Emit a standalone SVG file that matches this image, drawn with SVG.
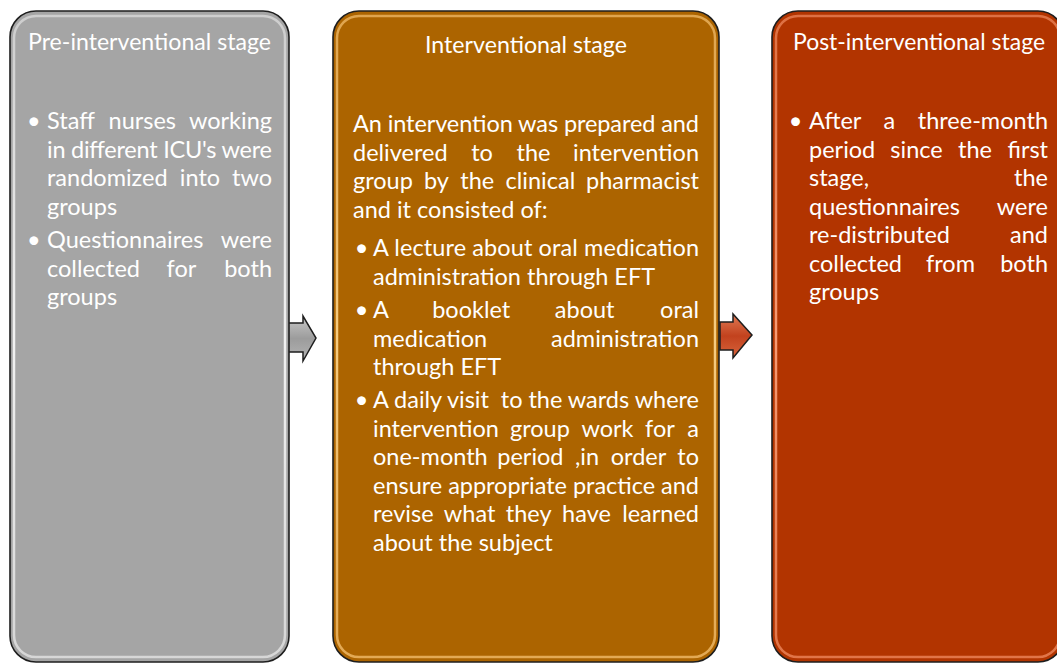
<svg xmlns="http://www.w3.org/2000/svg" width="1057" height="663" viewBox="0 0 1057 663">
<style>
  text { font-family: Lato, "Open Sans", "Liberation Sans", sans-serif; font-size: 23.5px; fill: #ffffff; }
  .e { text-anchor: end; }
  .m { text-anchor: middle; }
  .pre { white-space: pre; }
  .box { stroke: #1e1e1e; stroke-width: 1.6; }
  .rim { fill: none; stroke-width: 2.5; }
  .arrow { stroke: #1e1e1e; stroke-width: 1.5; stroke-linejoin: miter; }
</style>
<defs>
  <linearGradient id="rimGrey" x1="0" y1="0" x2="0" y2="1">
    <stop offset="0" stop-color="#ffffff" stop-opacity="0.45"/>
    <stop offset="0.5" stop-color="#ffffff" stop-opacity="0.85"/>
    <stop offset="1" stop-color="#ffffff" stop-opacity="0.55"/>
  </linearGradient>
  <linearGradient id="rimBrown" x1="0" y1="0" x2="0" y2="1">
    <stop offset="0" stop-color="#f5c070" stop-opacity="0.7"/>
    <stop offset="0.5" stop-color="#ffd890" stop-opacity="0.9"/>
    <stop offset="1" stop-color="#f5c070" stop-opacity="0.75"/>
  </linearGradient>
  <linearGradient id="rimRed" x1="0" y1="0" x2="0" y2="1">
    <stop offset="0" stop-color="#f08a60" stop-opacity="0.7"/>
    <stop offset="0.5" stop-color="#ffa680" stop-opacity="0.9"/>
    <stop offset="1" stop-color="#f08a60" stop-opacity="0.75"/>
  </linearGradient>
  <linearGradient id="arrGrey" x1="0" y1="0" x2="0" y2="1">
    <stop offset="0" stop-color="#c8c8c8"/>
    <stop offset="0.5" stop-color="#9c9c9c"/>
    <stop offset="1" stop-color="#b4b4b4"/>
  </linearGradient>
  <linearGradient id="arrRed" x1="0" y1="0" x2="0" y2="1">
    <stop offset="0" stop-color="#e07a55"/>
    <stop offset="0.5" stop-color="#c2421e"/>
    <stop offset="1" stop-color="#d8643c"/>
  </linearGradient>
</defs>

<g id="connectors">
  <path class="arrow" fill="url(#arrGrey)" d="M288,323 L303,323 L303,316 L316,338 L303,361 L303,352 L288,352 Z"/>
  <path class="arrow" fill="url(#arrRed)" d="M720,322 L733,322 L733,314 L752,335 L733,358 L733,350 L720,350 Z"/>
</g>

<g id="node-pre">
  <rect class="box" x="10" y="11" width="279" height="651" rx="26" ry="26" fill="#a5a5a5"/>
  <rect class="rim" x="14" y="16" width="271" height="641" rx="22" ry="22" stroke="url(#rimGrey)"/>
  <text x="28" y="50" textLength="243" lengthAdjust="spacingAndGlyphs">Pre-interventional stage</text>
  <text class="m" x="33.7" y="129">•</text>
  <text x="47" y="129">Staff</text><text class="m" x="142.3" y="129">nurses</text><text class="e" x="272" y="129">working</text>
  <text x="47" y="157.5" textLength="225" lengthAdjust="spacing">in different ICU's were</text>
  <text x="47" y="186">randomized</text><text class="m" x="200" y="186">into</text><text class="e" x="272" y="186">two</text>
  <text x="47" y="214.5">groups</text>
  <text class="m" x="33.7" y="248">•</text>
  <text x="47" y="248">Questionnaires</text><text class="e" x="272" y="248">were</text>
  <text x="47" y="276.5">collected</text><text class="m" x="181.4" y="276.5">for</text><text class="e" x="272" y="276.5">both</text>
  <text x="47" y="305">groups</text>
</g>

<g id="node-intervention">
  <rect class="box" x="333" y="11" width="386" height="651" rx="26" ry="26" fill="#ac6400"/>
  <rect class="rim" x="337" y="16" width="378" height="641" rx="22" ry="22" stroke="url(#rimBrown)"/>
  <text x="425" y="53" textLength="202" lengthAdjust="spacingAndGlyphs">Interventional stage</text>
  <text x="353" y="132" textLength="346" lengthAdjust="spacing">An intervention was prepared and</text>
  <text x="353" y="160.5">delivered</text><text class="m" x="482" y="160.5">to</text><text class="m" x="533.5" y="160.5">the</text><text class="e" x="699" y="160.5">intervention</text>
  <text x="353" y="189">group</text><text class="m" x="436.4" y="189">by</text><text class="m" x="477.3" y="189">the</text><text class="m" x="540.4" y="189">clinical</text><text class="e" x="699" y="189">pharmacist</text>
  <text x="353" y="217.5">and it consisted of:</text>
  <text class="m" x="361.5" y="256">•</text>
  <text x="373" y="256" textLength="326" lengthAdjust="spacing">A lecture about oral medication</text>
  <text x="373" y="284.5">administration through EFT</text>
  <text class="m" x="361.5" y="318">•</text>
  <text x="373" y="318">A</text><text class="m" x="471.2" y="318">booklet</text><text class="m" x="584.7" y="318">about</text><text class="e" x="699" y="318">oral</text>
  <text x="373" y="346.5">medication</text><text class="e" x="699" y="346.5">administration</text>
  <text x="373" y="375">through EFT</text>
  <text class="m" x="361.5" y="408">•</text>
  <text class="pre" x="373" y="408" textLength="326" lengthAdjust="spacing">A daily visit  to the wards where</text>
  <text x="373" y="436.5">intervention</text><text class="m" x="539.9" y="436.5">group</text><text class="m" x="607.5" y="436.5">work</text><text class="m" x="659.9" y="436.5">for</text><text class="e" x="699" y="436.5">a</text>
  <text x="373" y="465">one-month</text><text class="m" x="530.4" y="465">period</text><text class="m" x="587" y="465">,in</text><text class="m" x="638.5" y="465">order</text><text class="e" x="699" y="465">to</text>
  <text x="373" y="493.5" textLength="326" lengthAdjust="spacing">ensure appropriate practice and</text>
  <text x="373" y="522">revise</text><text class="m" x="469.6" y="522">what</text><text class="m" x="528.7" y="522">they</text><text class="m" x="586.5" y="522">have</text><text class="e" x="699" y="522">learned</text>
  <text x="373" y="550.5">about the subject</text>
</g>

<g id="node-post">
  <rect class="box" x="772" y="11" width="292" height="651" rx="26" ry="26" fill="#b23400"/>
  <rect class="rim" x="776" y="16" width="284" height="641" rx="22" ry="22" stroke="url(#rimRed)"/>
  <text x="793" y="50" textLength="252" lengthAdjust="spacingAndGlyphs">Post-interventional stage</text>
  <text class="m" x="795.5" y="129">•</text>
  <text x="809" y="129">After</text><text class="m" x="889.3" y="129">a</text><text class="e" x="1048" y="129">three-month</text>
  <text x="809" y="157.5">period</text><text class="m" x="916.5" y="157.5">since</text><text class="m" x="975" y="157.5">the</text><text class="e" x="1048" y="157.5">first</text>
  <text x="809" y="186">stage,</text><text class="e" x="1048" y="186">the</text>
  <text x="809" y="214.5">questionnaires</text><text class="e" x="1048" y="214.5">were</text>
  <text x="809" y="243">re-distributed</text><text class="e" x="1048" y="243">and</text>
  <text x="809" y="271.5">collected</text><text class="m" x="950.5" y="271.5">from</text><text class="e" x="1048" y="271.5">both</text>
  <text x="809" y="300">groups</text>
</g>
</svg>
